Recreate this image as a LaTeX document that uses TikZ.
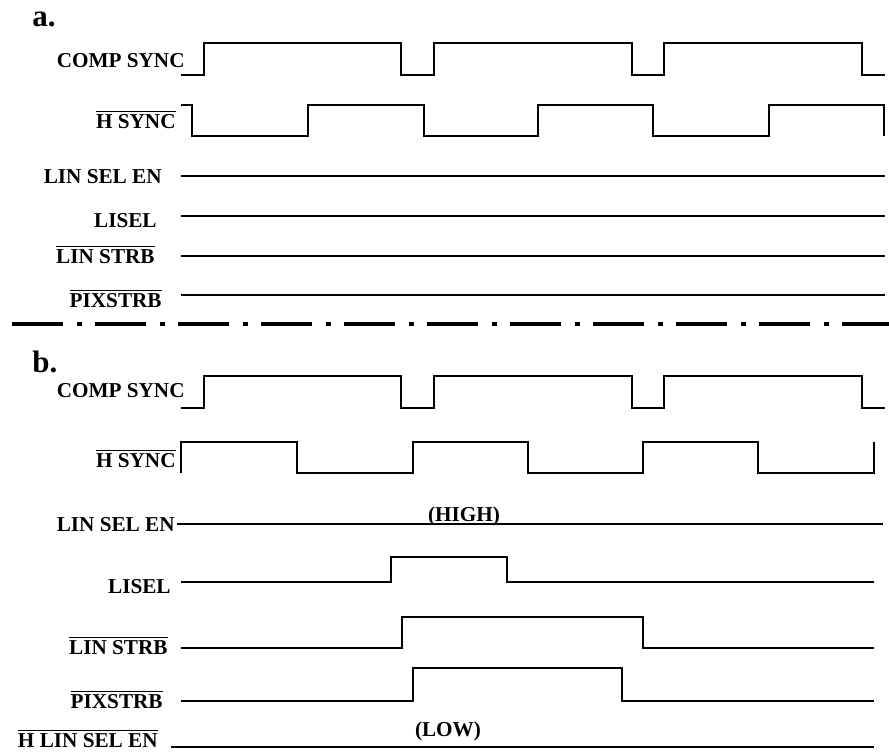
\documentclass[tikz,border=0pt]{standalone}
\usepackage{fontspec}
\setmainfont{Liberation Serif}
\usepackage{tikz}
\usetikzlibrary{positioning}
\newcommand{\ovbar}[1]{$\overline{\mbox{#1}}$}

\begin{document}
\begin{tikzpicture}[x=0.5pt, y=-0.5pt,
    siglabel/.style={anchor=base east, inner sep=0pt, font=\bfseries\fontsize{10.6}{12}\selectfont},
    panel/.style={anchor=base west, inner sep=0pt, font=\bfseries\fontsize{15.5}{18}\selectfont},
    wave/.style={line width=1.1pt, line join=miter}]
  \useasboundingbox (0,0) rectangle (889,751);

  % a. -- idle
  \node[panel] (tagA) at (32,26) {a.};
  \node[siglabel] (csyncA) at (185,67) {COMP SYNC};
  \node[siglabel] (hsyncA) at (176,128) {\ovbar{H SYNC}};
  \node[siglabel] (linselA) at (162,183) {LIN SEL EN};
  \node[siglabel] (liselA) at (157,227) {LISEL};
  \node[siglabel] (linstrbA) at (155,263) {\ovbar{LIN STRB}};
  \node[siglabel] (pixstrbA) at (162,307) {\ovbar{PIXSTRB}};

  \draw[wave] (181,75) -| (204,43) -| (401,75) -| (434,43) -| (632,75) -| (664,43) -| (862,75) -- (885,75);
  \draw[wave] (181,105) -| (192,136) -| (308,105) -| (424,136) -| (538,105) -| (653,136) -| (769,105) -| (884,136);
  \draw[wave] (181,176) -- (885,176);
  \draw[wave] (181,216) -- (885,216);
  \draw[wave] (181,256) -- (885,256);
  \draw[wave] (181,295) -- (885,295);

  % separator
  \draw[line width=2pt, dash pattern=on 25.5pt off 7pt on 2.5pt off 6.5pt] (12,324) -- (889,324);

  % b. -- line select
  \node[panel] (tagB) at (32,372) {b.};
  \node[siglabel] (csyncB) at (185,397) {COMP SYNC};
  \node[siglabel] (hsyncB) at (176,467) {\ovbar{H SYNC}};
  \node[siglabel] (linselB) at (175,531) {LIN SEL EN};
  \node[siglabel] (liselB) at (171,593) {LISEL};
  \node[siglabel] (linstrbB) at (168,654) {\ovbar{LIN STRB}};
  \node[siglabel] (pixstrbB) at (163,708) {\ovbar{PIXSTRB}};
  \node[siglabel] (hlinselB) at (158,747) {\ovbar{H LIN SEL EN}};
  \node[siglabel, anchor=base] (high) at (464,521) {(HIGH)};
  \node[siglabel, anchor=base] (low) at (448,736) {(LOW)};

  \draw[wave] (181,408) -| (204,376) -| (401,408) -| (434,376) -| (632,408) -| (664,376) -| (862,408) -- (885,408);
  \draw[wave] (181,473) -- (181,442) -| (297,473) -| (413,442) -| (528,473) -| (643,442) -| (758,473) -| (874,442);
  \draw[wave] (177,524) -- (883,524);
  \draw[wave] (181,582) -| (391,557) -| (507,582) -- (874,582);
  \draw[wave] (181,648) -| (402,617) -| (643,648) -- (874,648);
  \draw[wave] (181,701) -| (413,668) -| (622,701) -- (874,701);
  \draw[wave] (171,747) -- (874,747);
\end{tikzpicture}
\end{document}
